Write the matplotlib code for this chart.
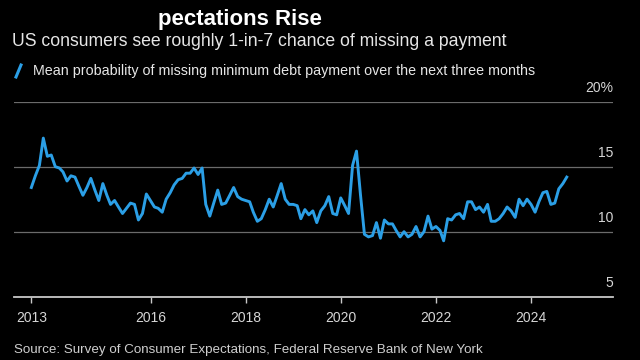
import datetime as dt

import matplotlib
matplotlib.use("Agg")
import matplotlib.pyplot as plt
from matplotlib.lines import Line2D
import pandas as pd

# monthly readings, June 2013 .. Sep 2024 (percent)
start_month = "2013-06-30"
values = [
    13.4, 14.3, 15.1, 17.2, 15.8, 15.9, 15.0, 14.9, 14.6, 13.9,
    14.3, 14.2, 13.5, 12.8, 13.4, 14.1, 13.2, 12.4, 13.7, 12.8,
    12.1, 12.4, 11.9, 11.4, 11.8, 12.2, 12.1, 10.9, 11.4, 12.9,
    12.4, 11.9, 11.8, 11.5, 12.5, 13.0, 13.6, 14.0, 14.1, 14.5,
    14.5, 14.9, 14.4, 14.9, 12.1, 11.2, 12.2, 13.2, 12.1, 12.2,
    12.8, 13.4, 12.7, 12.5, 12.4, 12.3, 11.5, 10.8, 11.0, 11.7,
    12.5, 11.9, 12.8, 13.7, 12.5, 12.1, 12.1, 12.0, 11.0, 11.7,
    11.3, 11.6, 10.7, 11.6, 12.0, 12.7, 11.4, 11.3, 12.6, 12.0,
    11.4, 15.1, 16.2, 12.8, 9.8, 9.6, 9.7, 10.7, 9.5, 10.9,
    10.6, 10.6, 10.1, 9.6, 10.0, 9.6, 9.8, 10.4, 9.6, 10.0,
    11.2, 10.2, 10.4, 10.1, 9.3, 11.0, 10.9, 11.3, 11.4, 11.0,
    12.3, 12.3, 11.7, 11.9, 11.5, 12.1, 10.8, 10.8, 11.0, 11.4,
    11.9, 11.6, 11.1, 12.5, 12.0, 12.5, 12.1, 11.5, 12.3, 13.0,
    13.1, 12.1, 12.2, 13.3, 13.7, 14.2,
]
dates = pd.date_range(start_month, periods=len(values), freq="ME")

y_ticks = [5, 10, 15, 20]
y_labels = ["5", "10", "15", "20%"]
x_tick_years = [2016, 2018, 2020, 2022, 2024]

title = "pectations Rise"
subtitle = "US consumers see roughly 1-in-7 chance of missing a payment"
legend_label = "Mean probability of missing minimum debt payment over the next three months"
source = "Source: Survey of Consumer Expectations, Federal Reserve Bank of New York"

BLUE = "#2b9fe6"
BG = "black"
FONT = "Liberation Sans"

fig = plt.figure(figsize=(6.4, 3.6), dpi=100, facecolor=BG)
ax = fig.add_axes([14 / 640, 1 - 296.7 / 360, (613 - 14) / 640, (296.7 - 101.7) / 360])
ax.set_facecolor(BG)

ax.plot(dates, values, color=BLUE, lw=2.1, solid_joinstyle="round", zorder=3)

ax.set_ylim(5, 20)
ax.set_xlim(dt.datetime(2013, 2, 17), dt.datetime(2025, 9, 20))

# gridlines
ax.set_yticks(y_ticks)
ax.tick_params(axis="y", left=False, labelleft=False)
for v in y_ticks[1:]:
    ax.axhline(v, color="#6b6b6b", lw=0.9, zorder=1)

# y labels sit above gridlines at right
for v, lab in zip(y_ticks, y_labels):
    ax.annotate(lab, xy=(1.0, v), xycoords=ax.get_yaxis_transform(),
                xytext=(0, 5), textcoords="offset points",
                ha="right", va="bottom", color="#d6d6d6", fontsize=10, family=FONT)

# x ticks
xt = [dates[0].to_pydatetime()] + [dt.datetime(y, 1, 1) for y in x_tick_years]
ax.set_xticks(xt)
ax.set_xticklabels(["2013"] + [str(y) for y in x_tick_years], family=FONT)
ax.tick_params(axis="x", direction="out", length=4, width=1, color="#c8c8c8",
               labelcolor="#d6d6d6", labelsize=10, pad=6)

for s in ["left", "right", "top"]:
    ax.spines[s].set_visible(False)
ax.spines["bottom"].set_color("#c8c8c8")
ax.spines["bottom"].set_linewidth(1.3)

fig.text(158 / 640, 1 - 19 / 360, title, color="white", fontsize=16, fontweight="bold",
         family=FONT, va="center", ha="left")
fig.text(12 / 640, 1 - 42 / 360, subtitle, color="#e6e6e6", fontsize=12.7,
         family=FONT, va="center", ha="left")
fig.add_artist(Line2D([16 / 640, 21 / 640], [1 - 77 / 360, 1 - 65 / 360], color=BLUE, lw=2.2))
fig.text(33 / 640, 1 - 71 / 360, legend_label, color="#e6e6e6", fontsize=10.3,
         family=FONT, va="center", ha="left")
fig.text(14 / 640, 1 - 350 / 360, source, color="#cfcfcf", fontsize=9.6,
         family=FONT, va="center", ha="left")

fig.savefig("out.png", dpi=100, facecolor=BG)
